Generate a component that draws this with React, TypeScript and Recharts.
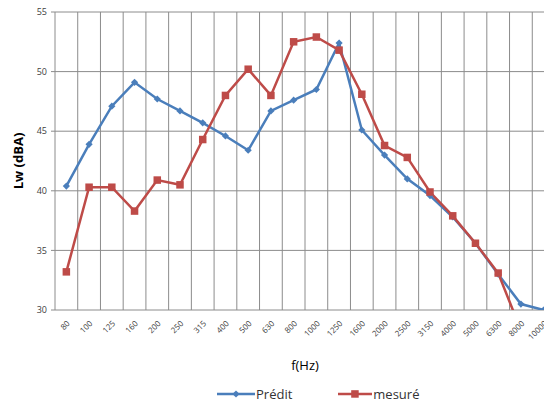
import React from 'react';
import {
  LineChart,
  Line,
  XAxis,
  YAxis,
  CartesianGrid,
  Legend,
  Label,
} from 'recharts';

// third-octave bands (Hz)
const freqs = [
  '80', '100', '125', '160', '200', '250', '315', '400', '500', '630', '800',
  '1000', '1250', '1600', '2000', '2500', '3150', '4000', '5000', '6300', '8000', '10000',
];

// predicted sound power level, dBA
const predit = [
  40.4, 43.9, 47.1, 49.1, 47.7, 46.7, 45.7, 44.6, 43.4, 46.7, 47.6,
  48.5, 52.4, 45.1, 43.0, 41.0, 39.6, 37.8, 35.6, 33.0, 30.5, 30.0,
];

// measured sound power level, dBA (last band not plotted)
const mesure = [
  33.2, 40.3, 40.3, 38.3, 40.9, 40.5, 44.3, 48.0, 50.2, 48.0, 52.5,
  52.9, 51.8, 48.1, 43.8, 42.8, 39.9, 37.9, 35.6, 33.1, 28.3, null,
];

const yTicks = [30, 35, 40, 45, 50, 55];

const data = freqs.map((f, i) => ({ f, predit: predit[i], mesure: mesure[i] }));

const BLUE = '#4A7EBB';
const RED = '#BE4B48';
const GRID = '#8C8C8C';
const FONT = '"Open Sans", "Liberation Sans", sans-serif';

const Diamond = ({ cx, cy, key }: any) => {
  if (cx == null || cy == null) return <g key={key} />;
  const r = 3.6;
  return (
    <path
      key={key}
      d={`M${cx},${cy - r}L${cx + r},${cy}L${cx},${cy + r}L${cx - r},${cy}Z`}
      fill={BLUE}
    />
  );
};

const Square = ({ cx, cy, key }: any) => {
  if (cx == null || cy == null) return <g key={key} />;
  const s = 7.5;
  return <rect key={key} x={cx - s / 2} y={cy - s / 2} width={s} height={s} fill={RED} />;
};

const FreqTick = ({ x, y, payload }: any) => (
  <text
    x={x + 4}
    y={y + 6}
    transform={`rotate(-45, ${x + 4}, ${y + 6})`}
    textAnchor="end"
    fontSize={8}
    fontFamily={FONT}
    fill="#404040"
  >
    {payload.value}
  </text>
);

const YTitle = ({ viewBox }: any) => {
  const cx = 18;
  const cy = viewBox.y + viewBox.height / 2;
  return (
    <text
      x={cx}
      y={cy}
      transform={`rotate(-90, ${cx}, ${cy})`}
      textAnchor="middle"
      dominantBaseline="central"
      fontSize={13}
      fontWeight="bold"
      fontFamily={FONT}
      fill="#000"
    >
      Lw (dBA)
    </text>
  );
};

const LegendContent = () => (
  <div
    style={{
      height: 20,
      display: 'flex',
      alignItems: 'center',
      paddingLeft: 217,
      fontFamily: FONT,
      fontSize: 13,
      color: '#333',
    }}
  >
    <svg width={38} height={12}>
      <line x1={0} y1={6} x2={38} y2={6} stroke={BLUE} strokeWidth={2.5} />
      <path d="M19,2.4L22.6,6L19,9.6L15.4,6Z" fill={BLUE} />
    </svg>
    <span style={{ marginLeft: 1 }}>Prédit</span>
    <svg width={34} height={12} style={{ marginLeft: 46 }}>
      <line x1={0} y1={6} x2={34} y2={6} stroke={RED} strokeWidth={2.5} />
      <rect x={13.2} y={2.2} width={7.5} height={7.5} fill={RED} />
    </svg>
    <span style={{ marginLeft: 1 }}>mesuré</span>
  </div>
);

export default function App() {
  return (
    <div
      style={{
        position: 'absolute',
        left: 0,
        top: 0,
        width: 544,
        height: 405,
        overflow: 'hidden',
        background: '#fff',
      }}
    >
      <LineChart
        width={560}
        height={405}
        data={data}
        margin={{ top: 12, right: 5, bottom: 1, left: 0 }}
      >
        <CartesianGrid
          stroke={GRID}
          strokeWidth={1}
          verticalCoordinatesGenerator={({ offset }: any) => {
            const left = offset?.left ?? 55;
            const width = offset?.width ?? 500;
            return Array.from(
              { length: freqs.length + 1 },
              (_, i) => left + (i * width) / freqs.length
            );
          }}
        />
        <XAxis
          dataKey="f"
          interval={0}
          height={74}
          axisLine={false}
          tickLine={false}
          padding={{ left: 11.36, right: 11.36 }}
          tick={<FreqTick />}
        >
          <Label
            value="f(Hz)"
            position="insideBottom"
            offset={14}
            fontSize={13}
            fontFamily={FONT}
            fill="#000"
          />
        </XAxis>
        <YAxis
          width={55}
          domain={[30, 55]}
          ticks={yTicks}
          allowDataOverflow
          axisLine={false}
          tickLine={{ stroke: GRID }}
          tickSize={4}
          tickMargin={4}
          tick={{ fontSize: 9, fill: '#404040', fontFamily: FONT }}
        >
          <Label content={<YTitle />} />
        </YAxis>
        <Legend verticalAlign="bottom" content={<LegendContent />} />
        <Line
          type="linear"
          dataKey="predit"
          stroke={BLUE}
          strokeWidth={2.5}
          dot={Diamond}
          activeDot={false}
          isAnimationActive={false}
        />
        <Line
          type="linear"
          dataKey="mesure"
          stroke={RED}
          strokeWidth={2.5}
          dot={Square}
          activeDot={false}
          isAnimationActive={false}
        />
      </LineChart>
    </div>
  );
}
